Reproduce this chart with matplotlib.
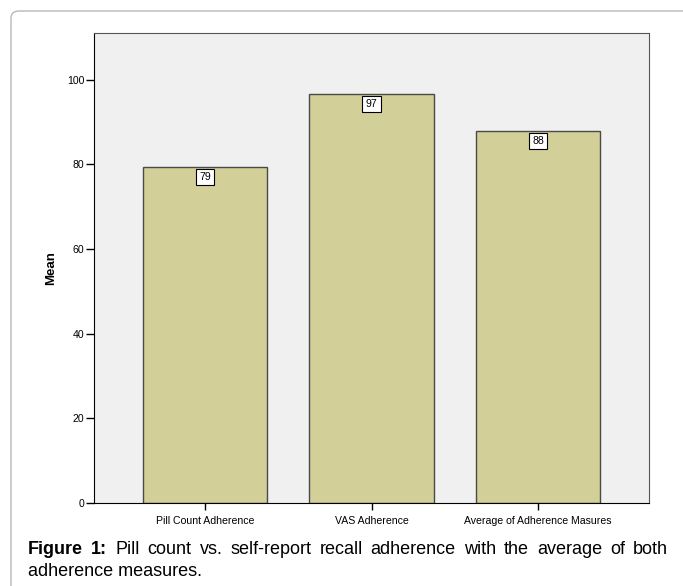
import matplotlib
matplotlib.use('Agg')
import matplotlib.pyplot as plt
from matplotlib.patches import FancyBboxPatch

plt.rcParams['font.family'] = ['Liberation Sans', 'DejaVu Sans']

categories = ['Pill Count Adherence', 'VAS Adherence', 'Average of Adherence Masures']
means = [79.4, 96.6, 87.9]
labels = ['79', '97', '88']

fig = plt.figure(figsize=(6.83, 5.86), dpi=100)
W, H = 683, 586

# rounded frame around the figure panel
frame = FancyBboxPatch((11/W, -0.1), 1.0, 1.1 - 11/H,
                       boxstyle='round,pad=0,rounding_size=0.012',
                       transform=fig.transFigure, fill=False,
                       edgecolor='#b8b8b8', linewidth=1.0)
fig.patches.append(frame)

ax = fig.add_axes([94/W, 1 - 503/H, (649 - 94)/W, (503 - 33)/H])
ax.set_facecolor('#f0f0f0')
x = range(len(categories))
ax.bar(x, means, width=0.75, color='#d3cf98', edgecolor='#4a4a4a', linewidth=1.0, zorder=2)
ax.set_xlim(-0.667, 2.667)
ax.set_ylim(0, 111)
ax.set_yticks([0, 20, 40, 60, 80, 100])
ax.set_xticks(list(x))
ax.set_xticklabels(categories, fontsize=7.6)
ax.tick_params(axis='y', labelsize=7.6, length=6, width=1, direction='out', pad=1)
ax.tick_params(axis='x', length=5, width=1, direction='out', pad=4)
for s in ['top', 'right']:
    ax.spines[s].set_color('#555555')
for s in ['left', 'bottom']:
    ax.spines[s].set_color('black')
ax.set_ylabel('Mean', fontsize=9.5, fontweight='bold')
ax.yaxis.set_label_coords(-(94 - 57)/(649 - 94), 0.5)

for xi, m, lab in zip(x, means, labels):
    ax.annotate(lab, (xi, m), xytext=(0, -7.2), textcoords='offset points',
                ha='center', va='center', fontsize=7.6, zorder=3,
                bbox=dict(boxstyle='square,pad=0.3', fc='white', ec='black', lw=0.8))

# caption: first line justified, bold prefix
fs = 13
words1 = [('Figure', 'bold'), ('1:', 'bold'), ('Pill', 'normal'), ('count', 'normal'),
          ('vs.', 'normal'), ('self-report', 'normal'), ('recall', 'normal'),
          ('adherence', 'normal'), ('with', 'normal'), ('the', 'normal'),
          ('average', 'normal'), ('of', 'normal'), ('both', 'normal')]
y1 = 1 - 549/H
texts = [fig.text(0, y1, w, fontsize=fs, fontweight=wt, va='center') for w, wt in words1]
fig.canvas.draw()
widths = [t.get_window_extent().width for t in texts]
left, right = 28, 668
gap = (right - left - sum(widths)) / (len(widths) - 1)
pos = left
for t, wd in zip(texts, widths):
    t.set_x(pos / W)
    pos += wd + gap
fig.text(left/W, 1 - 572/H, 'adherence measures.', fontsize=fs, va='center')

fig.savefig('out.png', dpi=100)
